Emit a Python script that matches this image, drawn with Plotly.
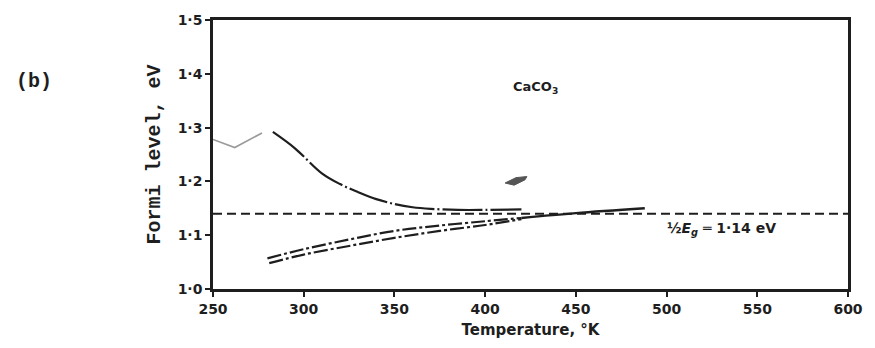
import plotly.graph_objects as go

# Fermi level of CaCO3 versus temperature
half_gap = 1.14  # eV, intrinsic level (1/2 Eg)

# cooling branch (falls towards the intrinsic level)
t_upper = [283, 295, 310, 320, 330, 340, 350, 360, 370, 385, 400, 420]
e_upper = [1.292, 1.262, 1.215, 1.195, 1.180, 1.167, 1.158, 1.152, 1.149, 1.147, 1.147, 1.148]

# heating branches (rise towards the intrinsic level)
t_low_a = [280, 300, 325, 350, 375, 400, 420]
e_low_a = [1.057, 1.074, 1.092, 1.108, 1.118, 1.126, 1.132]
t_low_b = [281, 300, 325, 350, 375, 400, 420]
e_low_b = [1.048, 1.064, 1.080, 1.095, 1.108, 1.119, 1.130]

# merged high-temperature segment
t_merge = [420, 450, 488]
e_merge = [1.132, 1.141, 1.150]

# faint trace near the left edge
t_trace = [250, 262, 277]
e_trace = [1.278, 1.263, 1.290]

x_ticks = [250, 300, 350, 400, 450, 500, 550, 600]
x_tick_text = ["<b>%d</b>" % v for v in x_ticks]
y_ticks = [1.0, 1.1, 1.2, 1.3, 1.4, 1.5]
y_tick_text = ["<b>1·0</b>", "<b>1·1</b>", "<b>1·2</b>", "<b>1·3</b>", "<b>1·4</b>", "<b>1·5</b>"]

ink = "#1e1e1e"

fig = go.Figure()
fig.add_trace(go.Scatter(x=[250, 600], y=[half_gap, half_gap], mode="lines",
                         line=dict(color=ink, width=2, dash="9px,5px")))
fig.add_trace(go.Scatter(x=t_trace, y=e_trace, mode="lines",
                         line=dict(color="#9a9a9a", width=1.6)))
fig.add_trace(go.Scatter(x=t_upper, y=e_upper, mode="lines", line_shape="spline",
                         line=dict(color=ink, width=2.2, dash="40px,3px,2px,3px")))
fig.add_trace(go.Scatter(x=t_low_a, y=e_low_a, mode="lines", line_shape="spline",
                         line=dict(color=ink, width=2.2, dash="14px,3px,3px,3px")))
fig.add_trace(go.Scatter(x=t_low_b, y=e_low_b, mode="lines", line_shape="spline",
                         line=dict(color=ink, width=2.2, dash="14px,3px,3px,3px")))
fig.add_trace(go.Scatter(x=t_merge, y=e_merge, mode="lines", line_shape="spline",
                         line=dict(color=ink, width=2.4)))

# small ink smudge on the sheet
fig.add_shape(type="path", xref="x", yref="y",
              path="M 411,1.197 L 417,1.207 L 423,1.209 L 422,1.203 L 416,1.193 Z",
              fillcolor="#555555", line=dict(color="#555555", width=1))

fig.add_annotation(x=428, y=1.375, text="<b>CaCO<sub>3</sub></b>", showarrow=False,
                   font=dict(family="DejaVu Sans", size=13, color=ink))
fig.add_annotation(x=530, y=1.112, text="<b>½<i>E<sub>g</sub></i> ═ 1·14 eV</b>",
                   showarrow=False, font=dict(family="DejaVu Sans", size=14, color=ink))
fig.add_annotation(xref="paper", yref="paper", x=-0.313, y=0.77, text="<b>(b)</b>",
                   showarrow=False, xanchor="left", yanchor="middle",
                   font=dict(family="Liberation Mono", size=20, color=ink))

fig.update_layout(
    width=875, height=348,
    margin=dict(l=213, r=20, t=20, b=56),
    paper_bgcolor="white", plot_bgcolor="white",
    showlegend=False,
    font=dict(family="DejaVu Sans", color=ink),
)
fig.update_xaxes(range=[250, 600], tickvals=x_ticks, ticktext=x_tick_text,
                 ticks="outside", ticklen=5,
                 tickwidth=2, tickcolor=ink, showline=True, linewidth=2.5, linecolor=ink,
                 mirror=True, showgrid=False, zeroline=False,
                 tickfont=dict(family="DejaVu Sans", size=14, color=ink),
                 title=dict(text="<b>Temperature, °K</b>", standoff=9,
                            font=dict(family="DejaVu Sans", size=15, color=ink)))
fig.update_yaxes(range=[1.0, 1.5], tickvals=y_ticks, ticktext=y_tick_text,
                 ticks="outside", ticklen=5, tickwidth=2, tickcolor=ink,
                 showline=True, linewidth=2.5, linecolor=ink, mirror=True,
                 showgrid=False, zeroline=False,
                 tickfont=dict(family="DejaVu Sans", size=14, color=ink),
                 title=dict(text="<b>Formi level, eV</b>", standoff=12,
                            font=dict(family="Liberation Mono", size=20, color=ink)))

fig.write_html("out.html")
